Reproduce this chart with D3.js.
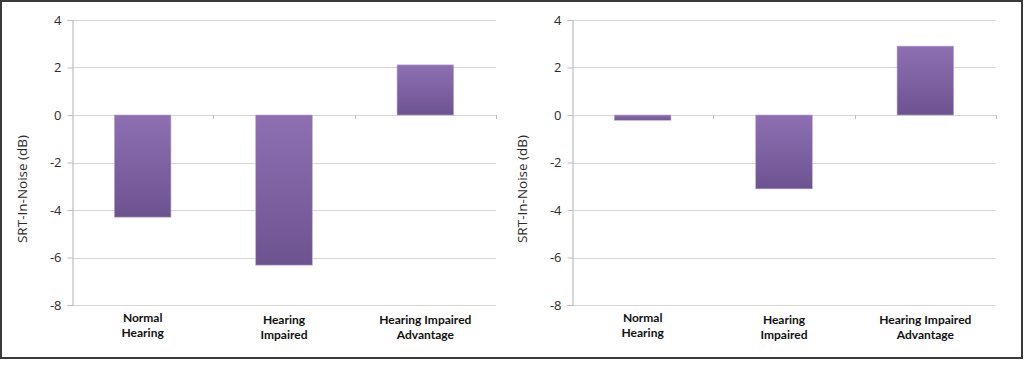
<!DOCTYPE html>
<html>
<head>
<meta charset="utf-8">
<script src="https://cdn.jsdelivr.net/npm/d3@7"></script>
<style>
  html, body { margin: 0; padding: 0; background: #fff; }
  svg { display: block; }
</style>
</head>
<body>
<div id="chart"></div>
<script>
// categories (two-line labels) and values per panel (dB)
const categories = ['Normal Hearing', 'Hearing Impaired', 'Hearing Impaired Advantage'];
const categoryLines = [['Normal', 'Hearing'], ['Hearing', 'Impaired'], ['Hearing Impaired', 'Advantage']];
const leftValues = [-4.3, -6.32, 2.11];
const rightValues = [-0.22, -3.11, 2.9];
const yTicks = [4, 2, 0, -2, -4, -6, -8];
const yLabel = 'SRT-In-Noise (dB)';

const width = 1024;
const height = 369;

const svg = d3.select('#chart')
    .append('svg')
    .attr('width', width)
    .attr('height', height);

// gradient for the bars
const grad = svg.append('defs').append('linearGradient')
    .attr('id', 'barGrad')
    .attr('x1', 0).attr('y1', 0).attr('x2', 0).attr('y2', 1);
grad.append('stop').attr('offset', '0%').attr('stop-color', '#8e70b2');
grad.append('stop').attr('offset', '100%').attr('stop-color', '#6d5290');

// outer frame
svg.append('rect')
    .attr('x', 1).attr('y', 1)
    .attr('width', 1021).attr('height', 357)
    .attr('fill', 'none')
    .attr('stroke', '#3a3a3a')
    .attr('stroke-width', 2);

function drawPanel(left, values) {
    const plotW = 424;
    const top = 20, bottom = 305;

    const x = d3.scaleBand()
        .domain(categories)
        .range([left, left + plotW])
        .paddingInner(0.6)
        .paddingOuter(0.3);

    const y = d3.scaleLinear()
        .domain([-8, 4])
        .range([bottom, top]);

    const g = svg.append('g');

    // gridlines
    g.selectAll('.grid')
        .data(yTicks)
        .enter()
        .append('line')
        .attr('x1', left).attr('x2', left + plotW)
        .attr('y1', d => Math.round(y(d)) + 0.5)
        .attr('y2', d => Math.round(y(d)) + 0.5)
        .attr('stroke', '#d6d6d6')
        .attr('stroke-width', 1.2);

    // y axis
    const yAxis = g.append('g')
        .attr('transform', `translate(${left + 0.5},0)`)
        .call(d3.axisLeft(y).tickValues(yTicks).tickSize(5).tickPadding(6)
            .tickFormat(d => String(d)));
    yAxis.select('.domain').attr('stroke', '#bdbdbd').attr('stroke-width', 1.2);
    yAxis.selectAll('.tick line').attr('stroke', '#bdbdbd');
    yAxis.selectAll('.tick text')
        .attr('fill', '#2b2b2b')
        .style('font-family', '"Open Sans", sans-serif')
        .style('font-size', '13px');

    // category boundary ticks on zero line
    const edges = categories.map(c => x(c) - x.step() * x.paddingInner() / 2).slice(1)
        .concat([left + plotW]);
    g.selectAll('.ctick')
        .data(edges)
        .enter()
        .append('line')
        .attr('x1', d => Math.round(d) + 0.5).attr('x2', d => Math.round(d) + 0.5)
        .attr('y1', y(0)).attr('y2', y(0) + 4)
        .attr('stroke', '#bdbdbd');

    // bars
    g.selectAll('.bar')
        .data(values)
        .enter()
        .append('rect')
        .attr('x', (d, i) => x(categories[i]))
        .attr('width', x.bandwidth())
        .attr('y', d => y(Math.max(0, d)))
        .attr('height', d => Math.abs(y(d) - y(0)))
        .attr('fill', 'url(#barGrad)')
        .attr('stroke', '#b7a6cc')
        .attr('stroke-width', 0.6);

    // category labels
    const labels = g.selectAll('.cat')
        .data(categoryLines)
        .enter()
        .append('text')
        .attr('x', (d, i) => x(categories[i]) + x.bandwidth() / 2)
        .attr('y', (d, i) => i === 0 ? 322 : 324)
        .attr('text-anchor', 'middle')
        .attr('fill', '#111')
        .style('font-family', 'Lato, "Open Sans", sans-serif')
        .style('font-weight', 'bold')
        .style('font-size', '12px');
    labels.selectAll('tspan')
        .data(d => d)
        .enter()
        .append('tspan')
        .attr('x', function () { return d3.select(this.parentNode).attr('x'); })
        .attr('dy', (d, i) => i === 0 ? 0 : 14.5)
        .text(d => d);

    // y axis title
    g.append('text')
        .attr('transform', `translate(${left - 45},189) rotate(-90)`)
        .attr('text-anchor', 'middle')
        .attr('fill', '#2b2b2b')
        .style('font-family', '"Open Sans", sans-serif')
        .style('font-size', '13.5px')
        .text(yLabel);
}

drawPanel(72, leftValues);
drawPanel(572, rightValues);
</script>
</body>
</html>
